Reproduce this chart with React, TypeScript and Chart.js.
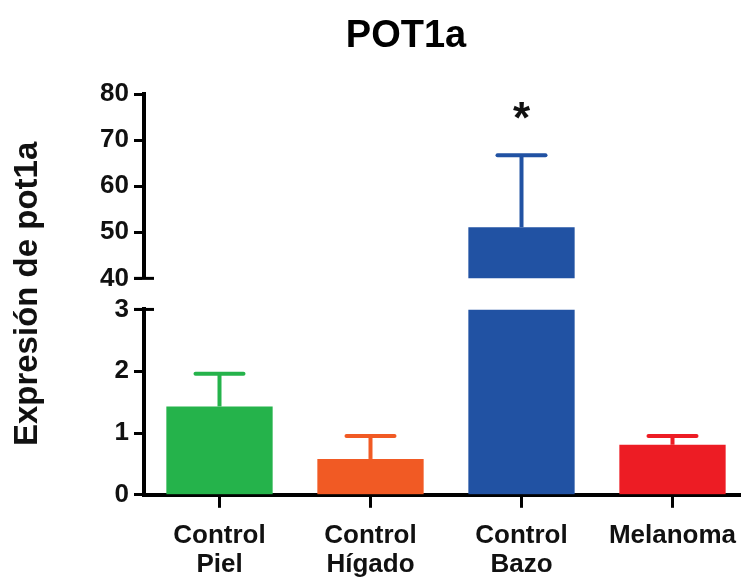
import React, { useEffect, useRef } from 'react';
import { Chart, registerables } from 'chart.js';

Chart.register(...registerables);

// ---- data ----
const categories: (string | string[])[] = [
  ['Control', 'Piel'],
  ['Control', 'Hígado'],
  ['Control', 'Bazo'],
  'Melanoma',
];
const means = [1.43, 0.58, 51.1, 0.81];
const errors = [0.53, 0.37, 15.6, 0.14];
const significance = ['', '', '*', ''];
const barColors = ['#25B34B', '#F15A24', '#2152A3', '#ED1C24'];
const upperTicks = [40, 50, 60, 70, 80];
const lowerTicks = [0, 1, 2, 3];
const chartTitle = 'POT1a';
const yTitle = 'Expresión de pot1a';

const FONT = '"Liberation Sans", Arial, sans-serif';
const lowerMax = lowerTicks[lowerTicks.length - 1];
const lowerData = means.map((v) => Math.min(v, lowerMax));
const upperData = means.map((v) => (v > lowerMax ? v : null));

const errorBarsPlugin = {
  id: 'errorBars',
  afterDatasetsDraw(chart: any) {
    const ctx = chart.ctx;
    const meta = chart.getDatasetMeta(0);
    const yUp = chart.scales.yUp;
    const yLow = chart.scales.yLow;
    means.forEach((m, i) => {
      const bar = meta.data[i];
      if (!bar) return;
      const x = bar.x;
      const scale = m > lowerMax ? yUp : yLow;
      const y0 = scale.getPixelForValue(m);
      const y1 = scale.getPixelForValue(m + errors[i]);
      ctx.save();
      ctx.strokeStyle = barColors[i];
      ctx.lineWidth = 4;
      ctx.lineCap = 'butt';
      ctx.beginPath();
      ctx.moveTo(x, y0);
      ctx.lineTo(x, y1);
      ctx.stroke();
      ctx.lineCap = 'round';
      ctx.beginPath();
      ctx.moveTo(x - 24, y1);
      ctx.lineTo(x + 24, y1);
      ctx.stroke();
      if (significance[i]) {
        ctx.fillStyle = '#111';
        ctx.font = `bold 44px ${FONT}`;
        ctx.textAlign = 'center';
        ctx.textBaseline = 'alphabetic';
        ctx.fillText(significance[i], x, y1 - 22);
      }
      ctx.restore();
    });
  },
};

const breakPlugin = {
  id: 'axisBreak',
  afterDraw(chart: any) {
    const ctx = chart.ctx;
    const yUp = chart.scales.yUp;
    const yLow = chart.scales.yLow;
    const ax = yUp.right;
    ctx.save();
    ctx.strokeStyle = '#000';
    ctx.lineWidth = 3;
    [yUp.bottom, yLow.top].forEach((y: number) => {
      ctx.beginPath();
      ctx.moveTo(ax - 10, y);
      ctx.lineTo(ax + 10, y);
      ctx.stroke();
    });
    ctx.restore();
  },
};

const titlePlugin = {
  id: 'plotTitle',
  afterDraw(chart: any) {
    const ctx = chart.ctx;
    ctx.save();
    ctx.fillStyle = '#000';
    ctx.font = `bold 38px ${FONT}`;
    ctx.textAlign = 'center';
    ctx.textBaseline = 'alphabetic';
    ctx.fillText(chartTitle, 406, 47);
    ctx.restore();
  },
};

export default function App() {
  const ref = useRef<HTMLCanvasElement>(null);
  useEffect(() => {
    if (!ref.current) return;
    Chart.defaults.font.family = FONT;
    const tickFont = { family: FONT, size: 26, weight: 'bold' as const, lineHeight: 1.1 };
    const chart = new Chart(ref.current, {
      type: 'bar',
      data: {
        labels: categories,
        datasets: [
          {
            data: lowerData,
            yAxisID: 'yLow',
            backgroundColor: barColors,
            borderWidth: 0,
            grouped: false,
            barPercentage: 0.704,
            categoryPercentage: 1,
          },
          {
            data: upperData,
            yAxisID: 'yUp',
            backgroundColor: barColors,
            borderWidth: 0,
            grouped: false,
            barPercentage: 0.704,
            categoryPercentage: 1,
          },
        ],
      },
      options: {
        animation: false,
        responsive: true,
        maintainAspectRatio: false,
        layout: { padding: { top: 94, left: 0, right: 0, bottom: -16 } },
        plugins: {
          legend: { display: false },
          tooltip: { enabled: false },
          title: { display: false },
        },
        scales: {
          x: {
            type: 'category',
            offset: true,
            grid: {
              display: true,
              drawOnChartArea: false,
              offset: false,
              tickLength: 13,
              tickWidth: 3,
              tickColor: '#000',
            },
            border: { display: true, color: '#000', width: 4 },
            ticks: {
              font: tickFont,
              color: '#111',
              padding: 14,
              autoSkip: false,
              maxRotation: 0,
            },
          },
          yUp: {
            type: 'linear',
            position: 'left',
            stack: 'y',
            stackWeight: 184,
            weight: 3,
            min: upperTicks[0],
            max: upperTicks[upperTicks.length - 1],
            grid: { drawOnChartArea: false, tickLength: 10, tickWidth: 3, tickColor: '#000' },
            border: { display: true, color: '#000', width: 4 },
            ticks: {
              stepSize: upperTicks[1] - upperTicks[0],
              autoSkip: false,
              font: tickFont,
              color: '#111',
              padding: 5,
            },
          },
          yGap: {
            type: 'linear',
            position: 'left',
            stack: 'y',
            stackWeight: 31,
            weight: 2,
            min: 0,
            max: 1,
            grid: { display: false, drawTicks: false },
            border: { display: false },
            ticks: { display: false },
            title: {
              display: true,
              text: yTitle,
              color: '#111',
              font: { family: FONT, size: 33, weight: 'bold', lineHeight: 1.2 },
              padding: { top: 8, bottom: 96.4 },
            },
          },
          yLow: {
            type: 'linear',
            position: 'left',
            stack: 'y',
            stackWeight: 185,
            weight: 1,
            min: lowerTicks[0],
            max: lowerMax,
            grid: { drawOnChartArea: false, tickLength: 10, tickWidth: 3, tickColor: '#000' },
            border: { display: true, color: '#000', width: 4 },
            ticks: {
              stepSize: lowerTicks[1] - lowerTicks[0],
              autoSkip: false,
              font: tickFont,
              color: '#111',
              padding: 5,
            },
          },
        },
      } as any,
      plugins: [errorBarsPlugin, breakPlugin, titlePlugin],
    });
    return () => chart.destroy();
  }, []);
  return (
    <div
      style={{
        position: 'fixed',
        left: 0,
        top: 0,
        width: 741,
        height: 577,
        overflow: 'hidden',
        background: '#fff',
      }}
    >
      <div style={{ position: 'relative', width: 748, height: 577 }}>
        <canvas ref={ref} />
      </div>
    </div>
  );
}
